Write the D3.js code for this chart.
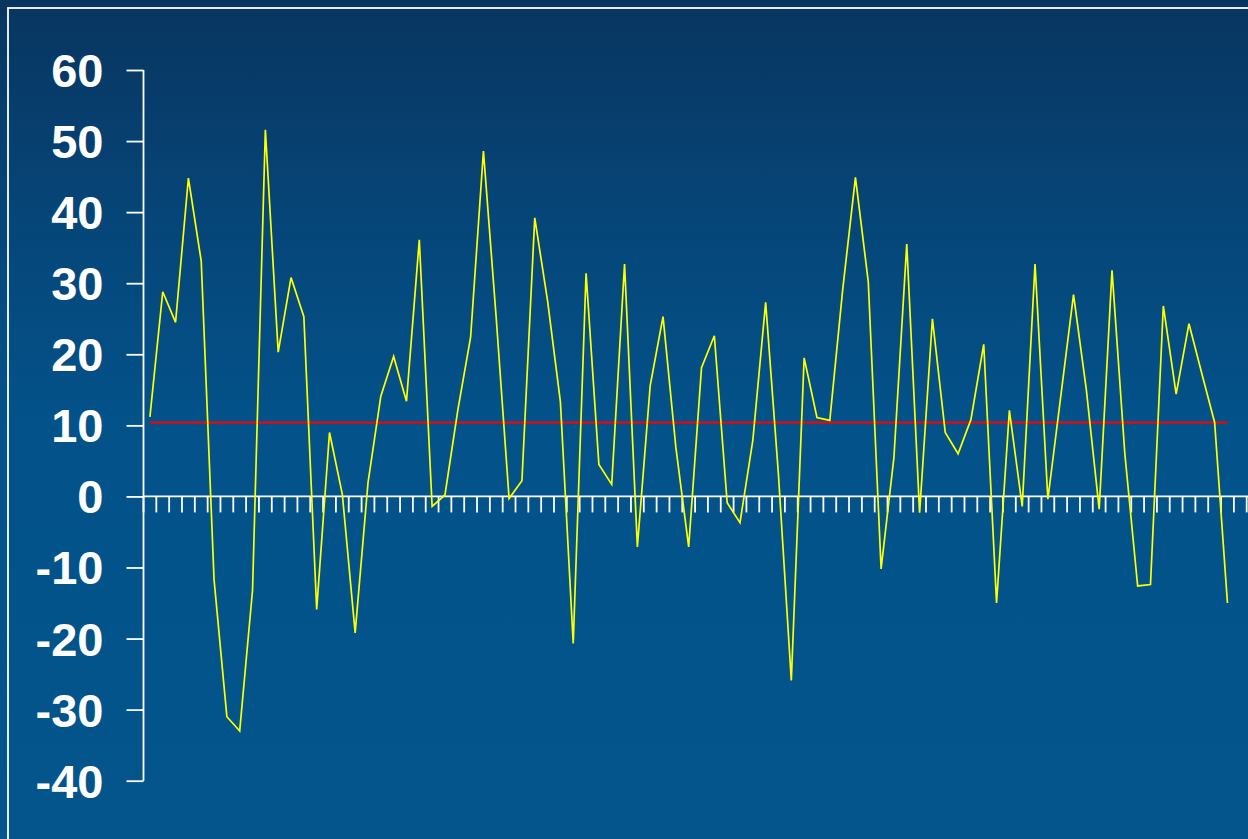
<!DOCTYPE html>
<html>
<head>
<meta charset="utf-8">
<script src="https://cdn.jsdelivr.net/npm/d3@7"></script>
<style>
  html, body { margin: 0; padding: 0; background: #03528a; overflow: hidden; }
  svg { display: block; }
</style>
</head>
<body>
<svg id="chart" width="1248" height="839"></svg>
<script>
// ---- data ----
const categories = [1,2,3,4,5,6,7,8,9,10,11,12,13,14,15,16,17,18,19,20,21,22,23,24,25,26,27,28,29,30,
  31,32,33,34,35,36,37,38,39,40,41,42,43,44,45,46,47,48,49,50,51,52,53,54,55,56,57,58,59,60,
  61,62,63,64,65,66,67,68,69,70,71,72,73,74,75,76,77,78,79,80,81,82,83,84,85,86];
const values = [11.2, 28.8, 24.5, 44.8, 33.1, -11.7, -31.0, -33.0, -13.2, 51.6,
  20.3, 30.8, 25.3, -15.9, 9.0, 0.3, -19.2, 1.9, 14.1, 19.7,
  13.4, 36.1, -1.4, 0.2, 12.1, 22.4, 48.6, 25.0, -0.3, 2.2,
  39.2, 27.5, 13.3, -20.7, 31.4, 4.5, 1.7, 32.7, -7.1, 15.6,
  25.3, 6.9, -7.1, 18.1, 22.6, -0.9, -3.7, 7.9, 27.3, 3.0,
  -25.9, 19.5, 11.1, 10.7, 29.0, 44.9, 30.2, -10.2, 5.5, 35.5,
  -2.3, 25.0, 9.0, 6.0, 10.8, 21.4, -15.0, 12.1, -1.4, 32.7,
  -0.4, 14.0, 28.4, 15.0, -1.8, 31.8, 6.0, -12.6, -12.4, 26.8,
  14.4, 24.3, 17.3, 10.4, -15.0];
const average = 10.4;
const yTicks = [60, 50, 40, 30, 20, 10, 0, -10, -20, -30, -40];

// ---- setup ----
const W = 1248, H = 839;
const svg = d3.select("#chart");

const defs = svg.append("defs");
const grad = defs.append("linearGradient").attr("id", "bg")
  .attr("x1", 0).attr("y1", 0).attr("x2", 0).attr("y2", 1);
grad.append("stop").attr("offset", "0%").attr("stop-color", "#083560");
grad.append("stop").attr("offset", "25%").attr("stop-color", "#064577");
grad.append("stop").attr("offset", "50%").attr("stop-color", "#03528a");
grad.append("stop").attr("offset", "100%").attr("stop-color", "#03558c");

svg.append("rect").attr("x", 0).attr("y", 0).attr("width", W).attr("height", H)
  .attr("fill", "url(#bg)");

// frame
svg.append("rect").attr("x", 8).attr("y", 8).attr("width", W + 20).attr("height", H + 20)
  .attr("fill", "none").attr("stroke", "#ffffff").attr("stroke-width", 1.8);

const x = d3.scaleBand().domain(categories).range([143.5, 1246.7]).paddingInner(0).paddingOuter(0);
const y = d3.scaleLinear().domain([-40, 60]).range([780.7, 70]);
const cx = (i) => x(categories[i]) + x.bandwidth() / 2;

// y axis
const yAxis = d3.axisLeft(y).tickValues(yTicks).tickSize(17).tickPadding(23).tickFormat(d => String(d));
const gy = svg.append("g").attr("transform", "translate(143.5,0)").call(yAxis);
gy.select(".domain").attr("stroke", "#ffffff").attr("stroke-width", 1.8)
  .attr("d", `M0,${y(60)}V${y(-40)}`);
gy.selectAll(".tick line").attr("stroke", "#ffffff").attr("stroke-width", 1.8);
gy.selectAll(".tick text").attr("fill", "#ffffff")
  .style("font-family", "'Liberation Sans', Arial, sans-serif")
  .style("font-weight", "bold").style("font-size", "47px")
  .attr("dy", "0.35em");

// x axis (category boundaries)
const gx = svg.append("g");
gx.append("line").attr("x1", 143.5).attr("x2", W).attr("y1", y(0)).attr("y2", y(0))
  .attr("stroke", "#ffffff").attr("stroke-width", 1.8);
const bounds = categories.map(c => x(c)).concat([x.range()[1]]);
gx.selectAll("line.tk").data(bounds).join("line").attr("class", "tk")
  .attr("x1", d => d).attr("x2", d => d)
  .attr("y1", y(0)).attr("y2", y(0) + 16)
  .attr("stroke", "#ffffff").attr("stroke-width", 1.8);

// average line
svg.append("line")
  .attr("x1", cx(0)).attr("x2", cx(values.length - 1))
  .attr("y1", y(average)).attr("y2", y(average))
  .attr("stroke", "#ff0000").attr("stroke-width", 2);

// data line
const line = d3.line().x((d, i) => cx(i)).y(d => y(d));
svg.append("path").datum(values).attr("d", line)
  .attr("fill", "none").attr("stroke", "#ffff00").attr("stroke-width", 1.7)
  .attr("stroke-linejoin", "miter");
</script>
</body>
</html>
